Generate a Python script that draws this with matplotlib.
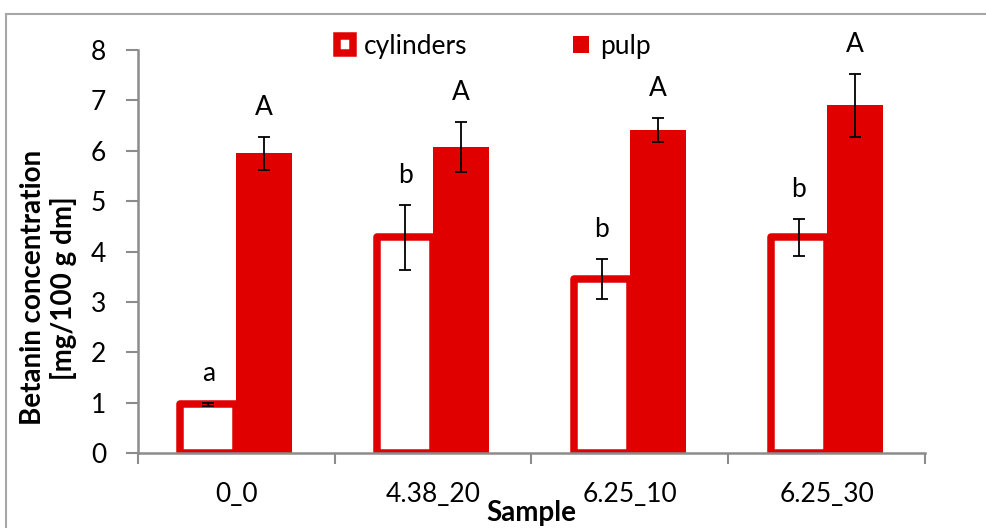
import numpy as np
import matplotlib
matplotlib.use('Agg')
import matplotlib.pyplot as plt
from matplotlib.patches import Rectangle

plt.rcParams['font.family'] = ['Lato', 'DejaVu Sans']

# data
samples = ['0_0', '4.38_20', '6.25_10', '6.25_30']
cylinders = [0.97, 4.28, 3.45, 4.28]
cylinders_err = [0.03, 0.64, 0.40, 0.37]
pulp = [5.95, 6.07, 6.41, 6.90]
pulp_err = [0.33, 0.50, 0.24, 0.62]
cyl_letters = ['a', 'b', 'b', 'b']
pulp_letters = ['A', 'A', 'A', 'A']

red = '#e00000'
grey = '#8c8c8c'
fs = 19

fig = plt.figure(figsize=(9.87, 5.28), dpi=100)
ax = fig.add_axes([138/987, 1-453/528, (925-138)/987, (453-50)/528])

x = np.arange(len(samples))
w = 0.284

ax.bar(x - w/2, cylinders, w, facecolor='white', edgecolor=red, linewidth=5.4,
       joinstyle='round', label='cylinders', zorder=2)
ax.bar(x + w/2, pulp, w, color=red, label='pulp', zorder=2)
ax.errorbar(x - w/2, cylinders, yerr=cylinders_err, fmt='none', ecolor='black',
            elinewidth=1.3, capsize=4.3, capthick=1.3, zorder=4)
ax.errorbar(x + w/2, pulp, yerr=pulp_err, fmt='none', ecolor='black',
            elinewidth=1.3, capsize=4.3, capthick=1.3, zorder=4)

# significance letters
for i in range(len(samples)):
    ax.text(x[i] - w/2, cylinders[i] + cylinders_err[i] + 0.58, cyl_letters[i],
            ha='center', va='center', fontsize=fs, clip_on=False)
    ax.text(x[i] + w/2, pulp[i] + pulp_err[i] + 0.58, pulp_letters[i],
            ha='center', va='center', fontsize=fs, clip_on=False)

ax.set_xlim(-0.5, len(samples) - 0.5)
ax.set_ylim(0, 8)
ax.set_yticks(range(0, 9))
ax.set_xticks(x)
ax.set_xticklabels(samples)
ax.set_xticks(np.arange(-0.5, len(samples)), minor=True)
ax.tick_params(axis='x', which='major', length=0, pad=21, labelsize=fs)
ax.tick_params(axis='x', which='minor', length=8, width=1.5, color=grey, direction='out')
ax.tick_params(axis='y', length=9, width=1.5, color=grey, pad=14, labelsize=fs)

for s in ['top', 'right']:
    ax.spines[s].set_visible(False)
for s in ['left', 'bottom']:
    ax.spines[s].set_color(grey)
    ax.spines[s].set_linewidth(1.8)

ax.set_ylabel('Betanin concentration\n[mg/100 g dm]', fontsize=20, fontweight='bold',
              linespacing=1.15)
ax.yaxis.set_label_coords(-0.078, 0.41)
ax.set_xlabel('Sample', fontsize=20, fontweight='bold')
ax.xaxis.set_label_coords(0.5, -0.117)

leg = ax.legend(loc='center left', bbox_to_anchor=(337/987, 1-46.5/528),
                bbox_transform=fig.transFigure, ncol=2, frameon=False, fontsize=fs,
                handlelength=0.62, handleheight=0.62, handletextpad=0.4,
                columnspacing=4.0, borderpad=0, borderaxespad=0)

# outer chart border like the spreadsheet chart area
fig.patches.append(Rectangle((6/987, -0.5), 2, 0.5 + 1 - 14/528, transform=fig.transFigure,
                             fill=False, edgecolor='#a6a6a6', linewidth=1.5))

fig.savefig('out.png', dpi=100)
